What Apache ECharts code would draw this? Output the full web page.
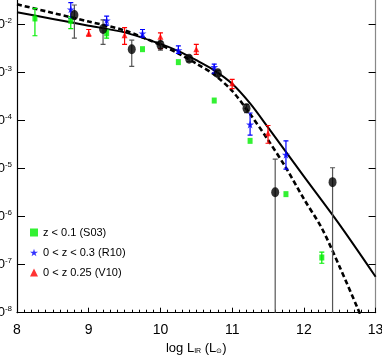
<!DOCTYPE html>
<html>
<head>
<meta charset="utf-8">
<script src="https://cdn.jsdelivr.net/npm/echarts@6/dist/echarts.min.js"></script>
<style>
  html, body { margin: 0; padding: 0; background: #fff; }
  #main { width: 382px; height: 355px; }
</style>
</head>
<body>
<div id="main"></div>
<script>
// 所有数值都是 log10：x = log L_IR，y = log Phi

// z < 0.1 (S03) 绿色方块
const s03X  = [8.25, 8.75, 9.25, 9.75, 10.25, 10.75, 11.25, 11.75, 12.25]
const s03Y  = [-1.87, -1.92, -2.18, -2.51, -2.78, -3.58, -4.42, -5.53, -6.85]
const s03Lo = [-2.23, -2.08, -2.28, null, null, null, null, null, -6.97]
const s03Hi = [-1.66, -1.83, -2.11, null, null, null, null, null, -6.74]

// 0 < z < 0.3 (R10) 蓝色星
const r10X  = [8.75, 9.25, 9.75, 10.25, 10.75, 11.25, 11.75]
const r10Y  = [-1.68, -1.91, -2.18, -2.53, -2.88, -4.08, -4.71]
const r10Lo = [-1.87, -2.01, -2.26, -2.60, -3.01, -4.30, -5.01]
const r10Hi = [-1.54, -1.82, -2.10, -2.44, -2.82, -3.84, -4.42]

// 0 < z 0.25 (V10) 红色三角
const v10X  = [9.0, 9.5, 10.0, 10.5, 11.0, 11.5]
const v10Y  = [-2.18, -2.22, -2.25, -2.51, -3.22, -4.26]
const v10Lo = [-2.24, -2.41, -2.50, -2.62, -3.33, -4.47]
const v10Hi = [-2.10, -2.06, -2.17, -2.41, -3.14, -4.10]

// 黑色圆点（无图例）
const blkX  = [8.8, 9.2, 9.6, 10.0, 10.4, 10.8, 11.2, 11.6, 12.4]
const blkY  = [-1.80, -2.09, -2.51, -2.42, -2.71, -3.01, -3.74, -5.49, -5.28]
const blkLo = [-2.28, -2.41, -2.87, -2.53, -2.77, -3.07, -3.83, -9, -9]
const blkHi = [-1.59, -1.90, -2.32, -2.35, -2.65, -2.95, -3.66, -4.80, -4.98]

// 实线拟合
const solidX = [8.0, 8.5, 9.0, 9.5, 10.0, 10.25, 10.5, 10.75, 11.0, 11.25, 11.5, 12.0, 12.5, 13.0]
const solidY = [-1.74, -1.88, -2.02, -2.16, -2.40, -2.55, -2.74, -2.95, -3.23, -3.64, -4.14, -5.16, -6.17, -7.25]

// 虚线拟合
const dashX = [8.0, 8.5, 9.0, 9.5, 10.0, 10.25, 10.5, 10.75, 11.0, 11.25, 11.5, 11.75, 12.0, 12.25, 12.5, 12.75, 13.0]
const dashY = [-1.575, -1.755, -1.935, -2.12, -2.42, -2.60, -2.81, -3.04, -3.38, -3.86, -4.40, -4.98, -5.63, -6.24, -7.05, -7.91, -8.8]

const legendNames = ['z < 0.1 (S03)', '0 < z < 0.3 (R10)', '0 < z 0.25 (V10)']

const FONT = 'Liberation Sans'
const STAR = 'path://M50,0 L61,35 L98,35 L68,57 L79,91 L50,70 L21,91 L32,57 L2,35 L39,35 Z'

function pts (xs, ys) {
  return xs.map((x, i) => [x, ys[i]])
}

function errData (xs, lo, hi) {
  const out = []
  xs.forEach((x, i) => {
    if (lo[i] !== null && hi[i] !== null) out.push([x, lo[i], hi[i]])
  })
  return out
}

// 误差棒：竖线 + 两端横帽
function errSeries (name, xs, lo, hi, color, capW) {
  return {
    name: name,
    type: 'custom',
    clip: true,
    z: 3,
    silent: true,
    data: errData(xs, lo, hi),
    encode: { x: 0, y: [1, 2] },
    renderItem: function (params, api) {
      const x = api.value(0)
      const a = api.coord([x, api.value(1)])
      const b = api.coord([x, api.value(2)])
      const st = { stroke: color, lineWidth: 1.2 }
      return {
        type: 'group',
        children: [
          { type: 'line', shape: { x1: a[0], y1: a[1], x2: b[0], y2: b[1] }, style: st },
          { type: 'line', shape: { x1: a[0] - capW, y1: a[1], x2: a[0] + capW, y2: a[1] }, style: st },
          { type: 'line', shape: { x1: b[0] - capW, y1: b[1], x2: b[0] + capW, y2: b[1] }, style: st }
        ]
      }
    }
  }
}

var chartDom = document.getElementById('main')
var myChart = echarts.init(chartDom, null, { renderer: 'canvas' })

var option = {
  animation: false,
  backgroundColor: '#fff',
  textStyle: { fontFamily: FONT },
  grid: { left: 17, right: 6.4, top: -23.3, bottom: 42.3, containLabel: false, outerBoundsMode: 'none' },
  legend: {
    data: legendNames,
    orient: 'vertical',
    left: 25,
    top: 222,
    itemGap: 9,
    itemWidth: 8,
    itemHeight: 8,
    selectedMode: false,
    textStyle: { fontFamily: FONT, fontSize: 11, color: '#000' }
  },
  xAxis: {
    type: 'value',
    min: 8,
    max: 13,
    interval: 1,
    name: '{a|log L}{s|IR}{a| (L}{s|⊙}{a|)}',
    nameLocation: 'middle',
    nameGap: 27,
    nameTextStyle: {
      rich: {
        a: { fontFamily: FONT, fontSize: 13, color: '#000' },
        s: { fontFamily: FONT, fontSize: 7, color: '#000', padding: [6, 0, 0, 0] }
      }
    },
    axisLine: { show: true, onZero: false, lineStyle: { color: '#000', width: 1.2 } },
    axisTick: { show: true, inside: true, length: 5, lineStyle: { color: '#000' } },
    minorTick: { show: true, splitNumber: 10, length: 3, lineStyle: { color: '#000' } },
    axisLabel: { fontFamily: FONT, fontSize: 14, color: '#000', margin: 10, hideOverlap: false },
    splitLine: { show: false }
  },
  yAxis: [
    {
      type: 'value',
      min: -8,
      max: -1,
      interval: 1,
      axisLine: { show: true, onZero: false, lineStyle: { color: '#000', width: 1.2 } },
      axisTick: { show: true, inside: true, length: 8, lineStyle: { color: '#000' } },
      axisLabel: {
        margin: 5,
        formatter: function (v) {
          return '{a|10}{b|' + v + '}'
        },
        rich: {
          a: { fontFamily: FONT, fontSize: 13, color: '#000' },
          b: { fontFamily: FONT, fontSize: 8, color: '#000', padding: [0, 0, 8, 0] }
        }
      },
      splitLine: { show: false }
    },
    {
      type: 'value',
      position: 'right',
      min: -8,
      max: -1,
      interval: 1,
      axisLine: { show: true, onZero: false, lineStyle: { color: '#888', width: 1.2 } },
      axisTick: { show: true, inside: true, length: 7, lineStyle: { color: '#000' } },
      axisLabel: { show: false },
      splitLine: { show: false }
    }
  ],
  series: [
    {
      name: 'solid',
      type: 'line',
      data: pts(solidX, solidY),
      smooth: 0.3,
      showSymbol: false,
      clip: true,
      z: 2,
      lineStyle: { color: '#000', width: 2 }
    },
    {
      name: 'dashed',
      type: 'line',
      data: pts(dashX, dashY),
      smooth: 0.3,
      showSymbol: false,
      clip: true,
      z: 2,
      lineStyle: { color: '#000', width: 2.6, type: [5, 3] }
    },
    errSeries('S03 err', s03X, s03Lo, s03Hi, '#00ee00', 2.5),
    errSeries('R10 err', r10X, r10Lo, r10Hi, '#0000ff', 2.5),
    errSeries('V10 err', v10X, v10Lo, v10Hi, '#ff0000', 2.5),
    errSeries('blk err', blkX, blkLo, blkHi, '#555555', 2.5),
    {
      name: legendNames[0],
      type: 'scatter',
      data: pts(s03X, s03Y),
      symbol: 'rect',
      symbolSize: [5, 6],
      z: 4,
      itemStyle: { color: '#00ee00' }
    },
    {
      name: legendNames[1],
      type: 'scatter',
      data: pts(r10X, r10Y),
      symbol: STAR,
      symbolSize: 8,
      z: 4,
      itemStyle: { color: '#0000ff' }
    },
    {
      name: legendNames[2],
      type: 'scatter',
      data: pts(v10X, v10Y),
      symbol: 'triangle',
      symbolSize: 6,
      z: 4,
      itemStyle: { color: '#ff0000' }
    },
    {
      name: 'black',
      type: 'scatter',
      data: pts(blkX, blkY),
      symbol: 'circle',
      symbolSize: [8, 10],
      z: 5,
      itemStyle: { color: '#000' }
    }
  ]
}

option && myChart.setOption(option)
</script>
</body>
</html>
